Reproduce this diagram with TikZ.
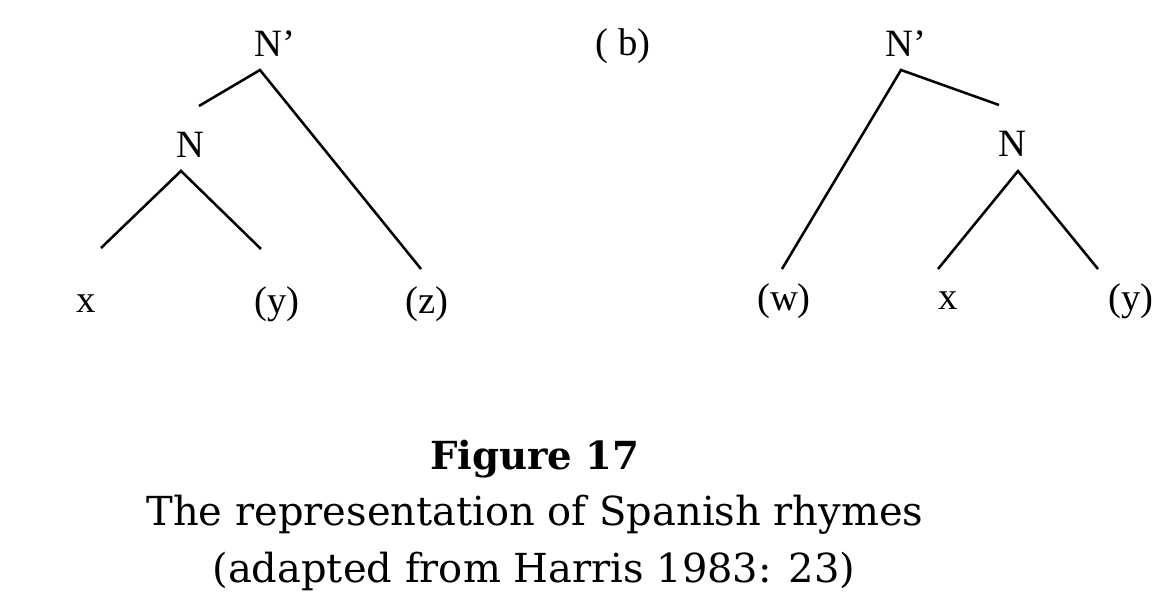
\documentclass[tikz,border=0pt]{standalone}
\usepackage{fontspec}
\setmainfont{Liberation Serif}
\newfontfamily\capfont{DejaVu Serif}
\begin{document}
\begin{tikzpicture}[x=0.75pt,y=-0.75pt,
  lab/.style={font=\fontsize{29}{31}\selectfont, inner sep=0pt, anchor=center},
  captext/.style={font=\capfont\fontsize{30}{34}\selectfont, inner sep=0pt, anchor=center},
  branch/.style={line width=1.9pt}]
\useasboundingbox (0,0) rectangle (1174,598);
% left tree
\node[lab] (lNp) at (275,44) {N’};
\coordinate (lA1) at (260,70);
\coordinate (lE1) at (199,106);
\coordinate (lE2) at (421,269);
\node[lab] (lN) at (190,145) {N};
\coordinate (lA2) at (181,171);
\coordinate (lE3) at (101,248);
\coordinate (lE4) at (261,249);
\node[lab] (lx) at (86,304) {x};
\node[lab] (ly) at (277,304) {(y)};
\node[lab] (lz) at (427,304) {(z)};
\draw[branch] (lE1) -- (lA1) -- (lE2);
\draw[branch] (lE3) -- (lA2) -- (lE4);
% label b
\node[lab] (b) at (623,46) {( b)};
% right tree
\node[lab] (rNp) at (906,44) {N’};
\coordinate (rA1) at (901,70);
\coordinate (rE1) at (782,269);
\coordinate (rE2) at (999,105);
\node[lab] (rN) at (1012,144) {N};
\coordinate (rA2) at (1018,171);
\coordinate (rE3) at (938,269);
\coordinate (rE4) at (1098,269);
\node[lab] (rw) at (784,301) {(w)};
\node[lab] (rx) at (948,301) {x};
\node[lab] (ry) at (1131,301) {(y)};
\draw[branch] (rE1) -- (rA1) -- (rE2);
\draw[branch] (rE3) -- (rA2) -- (rE4);
% caption
\node[captext, font=\capfont\bfseries\fontsize{29}{32}\selectfont] (t1) at (535,459) {Figure 17};
\node[captext] (t2) at (535,515) {The representation of Spanish rhymes};
\node[captext] (t3) at (534,571) {(adapted from Harris 1983: 23)};
\end{tikzpicture}
\end{document}
